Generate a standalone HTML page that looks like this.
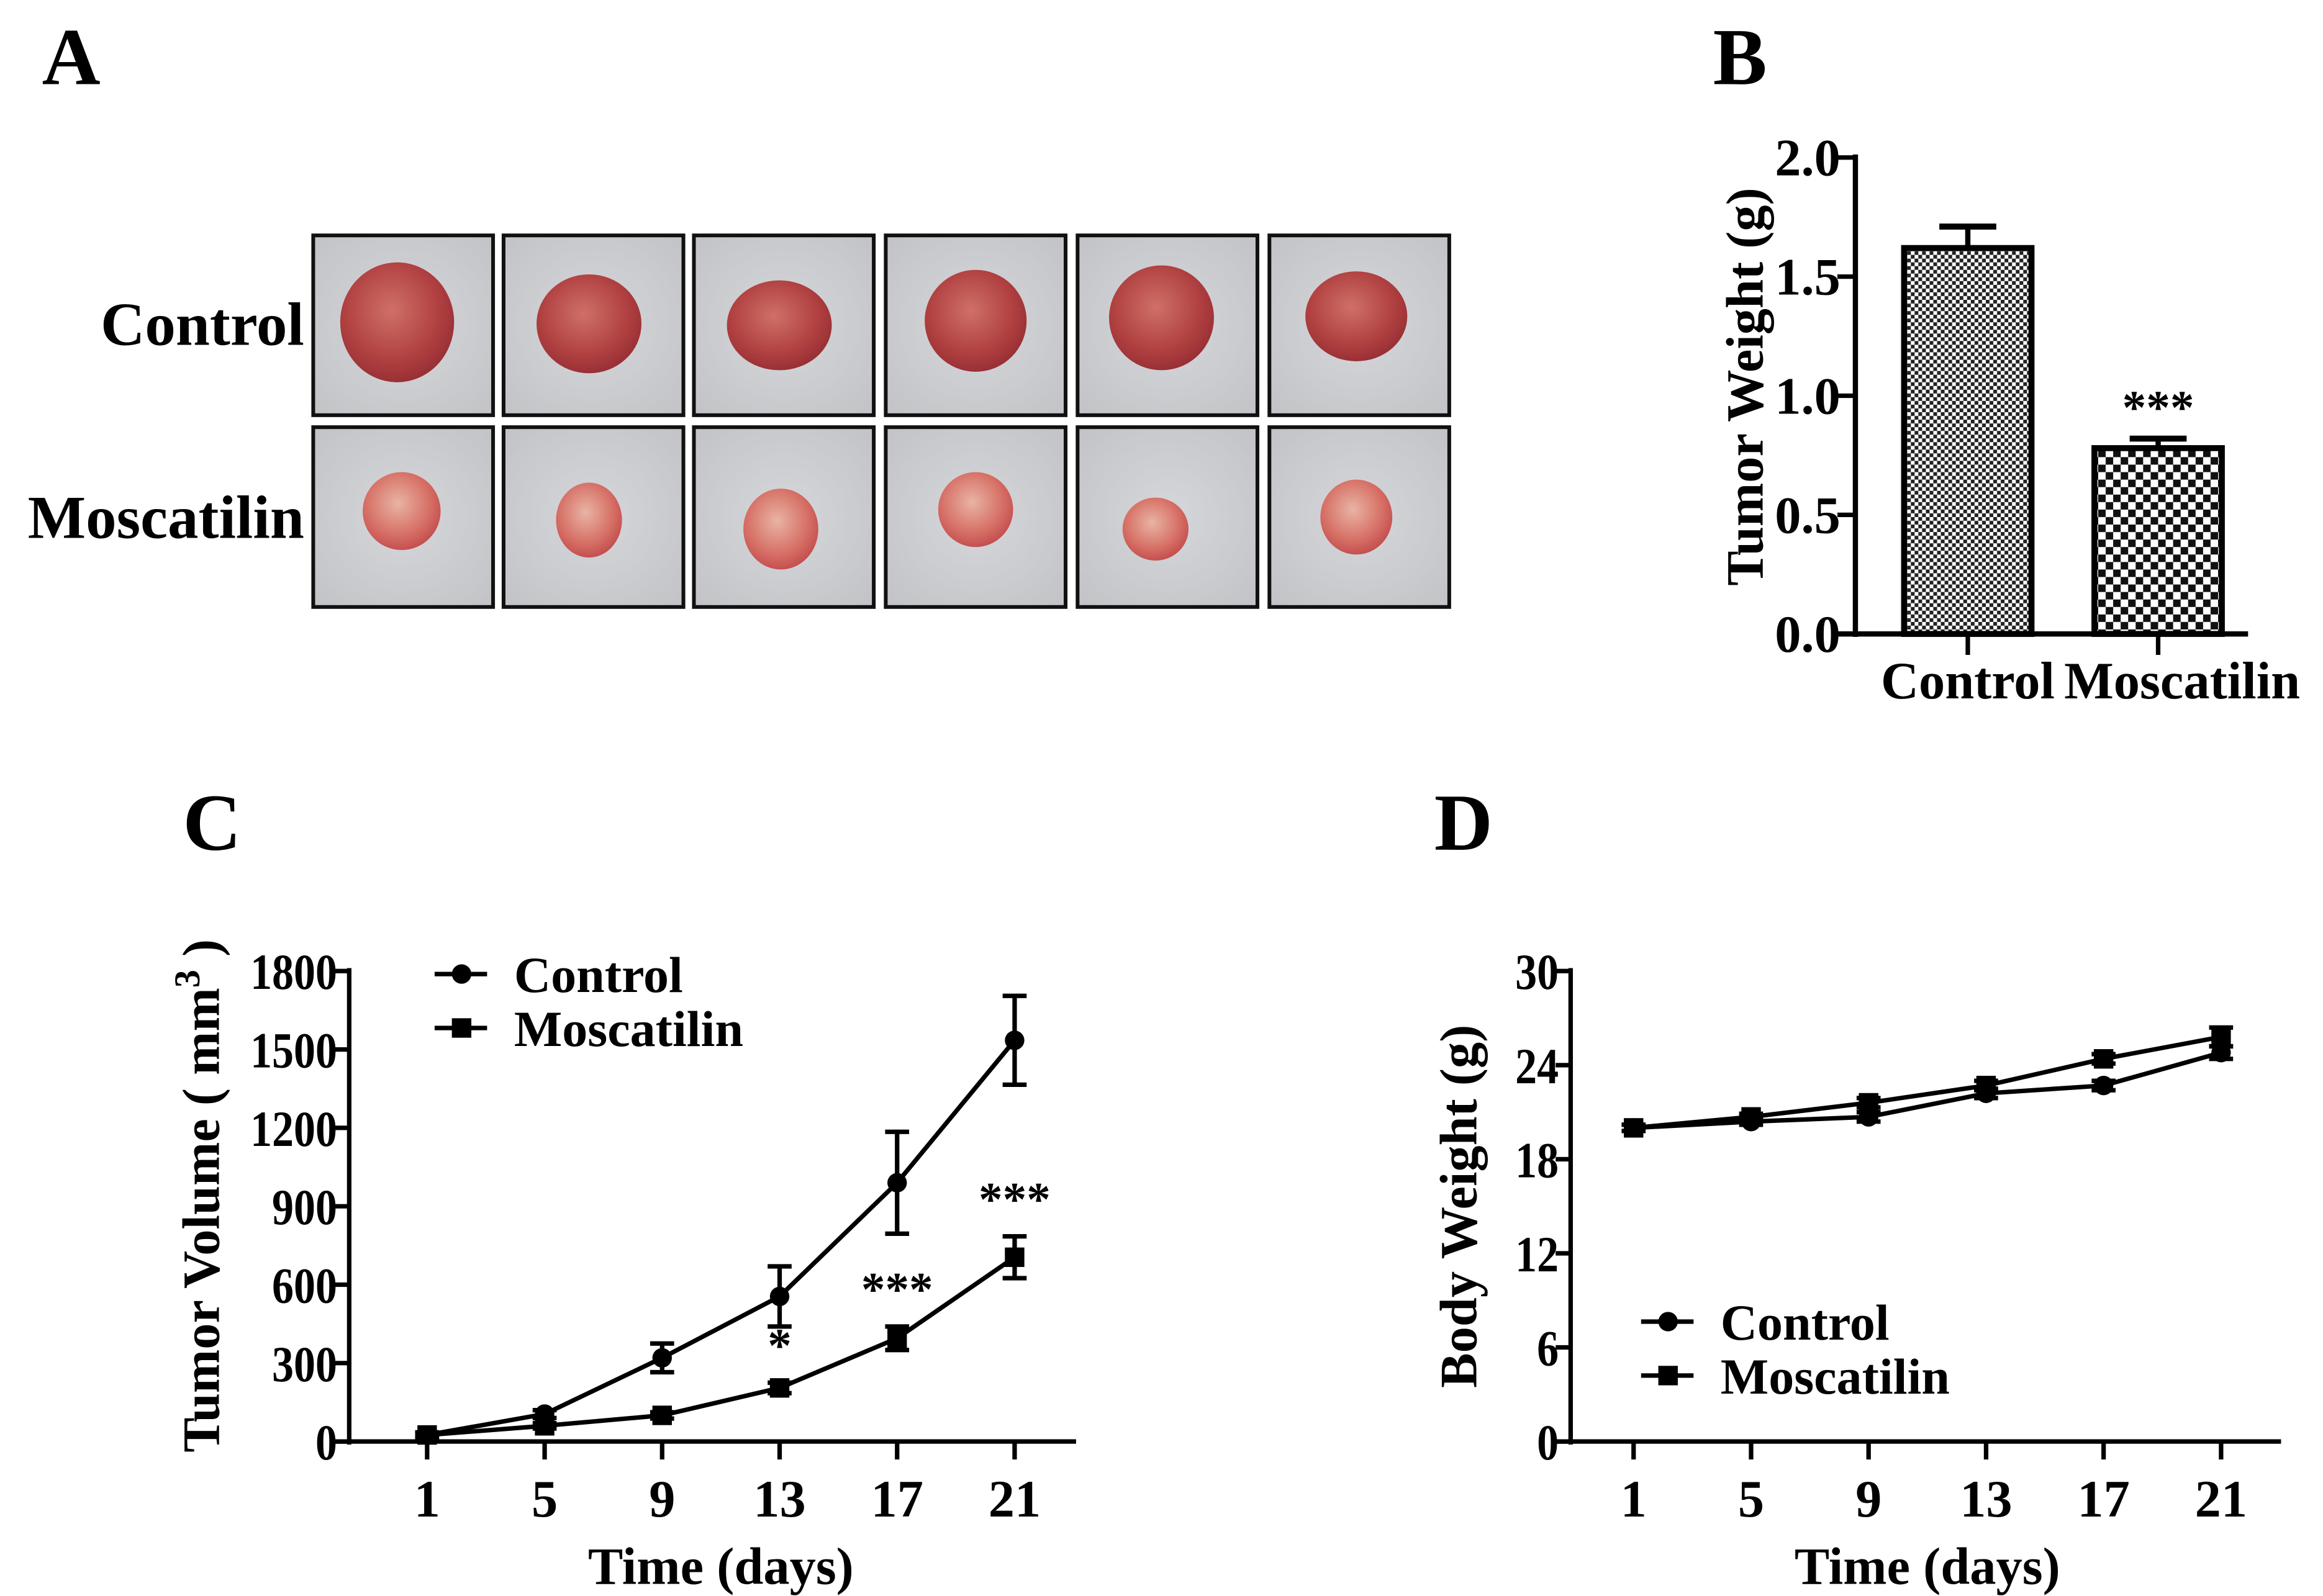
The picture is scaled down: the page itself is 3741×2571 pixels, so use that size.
<!DOCTYPE html>
<html><head><meta charset="utf-8"><style>
html,body{margin:0;padding:0;background:#fff;}
svg{display:block;}
text{font-family:"Liberation Serif",serif;font-weight:bold;fill:#000;}
</style></head><body>
<svg id="fig" width="3741" height="2571" viewBox="0 0 1550 1065" xmlns="http://www.w3.org/2000/svg">
<defs>
<pattern id="fine" width="5" height="5" patternUnits="userSpaceOnUse"><rect width="5" height="5" fill="#fff"/><rect width="2.5" height="2.5" fill="#222"/><rect x="2.5" y="2.5" width="2.5" height="2.5" fill="#222"/></pattern>
<pattern id="coarse" width="10" height="10" patternUnits="userSpaceOnUse"><rect width="10" height="10" fill="#fff"/><rect width="5" height="5" fill="#111"/><rect x="5" y="5" width="5" height="5" fill="#111"/></pattern>
<radialGradient id="bg" cx="0.5" cy="0.5" r="0.7"><stop offset="0" stop-color="#d6d7da"/><stop offset="1" stop-color="#c2c3c6"/></radialGradient>
<radialGradient id="tumC" cx="0.45" cy="0.4" r="0.6"><stop offset="0" stop-color="#cf7068"/><stop offset="0.7" stop-color="#b04040"/><stop offset="1" stop-color="#993036"/></radialGradient>
<radialGradient id="tumM" cx="0.45" cy="0.4" r="0.6"><stop offset="0" stop-color="#e8b4a4"/><stop offset="0.7" stop-color="#d66e64"/><stop offset="1" stop-color="#c45050"/></radialGradient>
</defs>
<g id="panelA"></g>
<g id="panelB"></g>
<g id="panelC"></g>
<g id="panelD"></g>
</svg>
<script>
// ---- Panel B data ----
const bCategories = ["Control", "Moscatilin"];
const bValues = [1.62, 0.78];
const bErrors = [0.09, 0.04];
const bTicks = ["0.0", "0.5", "1.0", "1.5", "2.0"];
const bTickValues = [0, 0.5, 1.0, 1.5, 2.0];
// ---- Panel C data ----
const cDays = [1, 5, 9, 13, 17, 21];
const cControl = [25, 105, 320, 555, 990, 1535];
const cControlErr = [10, 15, 55, 115, 195, 170];
const cMosc = [25, 60, 100, 205, 395, 705];
const cMoscErr = [8, 10, 12, 20, 45, 80];
const cStars = ["", "", "", "*", "***", "***"];
const cTickValues = [0, 300, 600, 900, 1200, 1500, 1800];
const cTickLabels = ["0", "300", "600", "900", "1200", "1500", "1800"];
// ---- Panel D data ----
const dDays = [1, 5, 9, 13, 17, 21];
const dControl = [20.0, 20.4, 20.7, 22.2, 22.7, 24.8];
const dControlErr = [0.2, 0.2, 0.3, 0.3, 0.3, 0.4];
const dMosc = [20.0, 20.7, 21.6, 22.7, 24.4, 25.8];
const dMoscErr = [0.2, 0.2, 0.3, 0.3, 0.3, 0.6];
const dTickValues = [0, 6, 12, 18, 24, 30];
const dTickLabels = ["0", "6", "12", "18", "24", "30"];

const NS = "http://www.w3.org/2000/svg";
function mk(parent, tag, attrs, txt) {
  const e = document.createElementNS(NS, tag);
  for (const k in attrs) e.setAttribute(k, attrs[k]);
  if (txt !== undefined) e.textContent = txt;
  parent.appendChild(e);
  return e;
}

// ---- Panel A ----
const A = document.getElementById('panelA');
let t = mk(A, 'text', {x: 28, y: 56, 'font-size': 54}, 'A');


t = mk(A, 'text', {x: 203, y: 230, 'font-size': 41, 'text-anchor': 'end'}, 'Control');


t = mk(A, 'text', {x: 203, y: 359, 'font-size': 41, 'text-anchor': 'end'}, 'Moscatilin');


const colX = [209, 336, 463, 591, 719, 847];
const rowY = [157, 285];
const sizes = [[[38, 40], [35, 33], [35, 30], [34, 34], [35, 35], [34, 30]], [[26, 26], [22, 25], [25, 27], [25, 25], [22, 21], [24, 25]]];
const offs = [[[-4, -2], [-3, -1], [-3, 0], [0, -3], [-4, -5], [-2, -6]], [[-1, -4], [-3, 2], [-2, 8], [0, -5], [-8, 8], [-2, 0]]];
rowY.forEach((y, r) => colX.forEach((x, c) => {
  const g = mk(A, 'g', {});
  
  
  mk(g, 'rect', {x: x, y: y, width: 120, height: 120, fill: 'url(#bg)', stroke: '#111', 'stroke-width': 2.5});
  const [rx, ry] = sizes[r][c], [ox, oy] = offs[r][c];
  mk(g, 'ellipse', {cx: x + 60 + ox, cy: y + 60 + oy, rx: rx, ry: ry, fill: r ? 'url(#tumM)' : 'url(#tumC)'});
}));

// ---- Panel B ----
const B = document.getElementById('panelB');
t = mk(B, 'text', {x: 1143, y: 56, 'font-size': 54}, 'B');


const bY = v => 423 - v / 2.0 * (423 - 105);
const bX0 = 1238;
const bCenters = [1313, 1440];
const bW = 85;
mk(B, 'line', {x1: bX0, y1: 103, x2: bX0, y2: 425, stroke: '#000', 'stroke-width': 3.5});
mk(B, 'line', {x1: bX0 - 14, y1: 423, x2: 1500, y2: 423, stroke: '#000', 'stroke-width': 3.5});
bTickValues.forEach((v, i) => {
  mk(B, 'line', {x1: bX0 - 12, y1: bY(v), x2: bX0, y2: bY(v), stroke: '#000', 'stroke-width': 3});
  t = mk(B, 'text', {x: bX0 - 10, y: bY(v) + 12, 'font-size': 35, 'text-anchor': 'end'}, bTicks[i]);
  
  
});
const bLabelX = [1313, 1456];
bCategories.forEach((c, i) => {
  const cx = bCenters[i];
  mk(B, 'line', {x1: cx, y1: 423, x2: cx, y2: 437, stroke: '#000', 'stroke-width': 3});
  mk(B, 'line', {x1: cx, y1: bY(bValues[i]), x2: cx, y2: bY(bValues[i] + bErrors[i]), stroke: '#000', 'stroke-width': 3.5});
  mk(B, 'line', {x1: cx - 19, y1: bY(bValues[i] + bErrors[i]), x2: cx + 19, y2: bY(bValues[i] + bErrors[i]), stroke: '#000', 'stroke-width': 4});
  const r = mk(B, 'rect', {x: cx - bW / 2, y: bY(bValues[i]), width: bW, height: 423 - bY(bValues[i]), fill: i ? 'url(#coarse)' : 'url(#fine)', stroke: '#000', 'stroke-width': 4});
  
  
  t = mk(B, 'text', {x: bLabelX[i], y: 466, 'font-size': 35, 'text-anchor': 'middle'}, c);
  
  
});
t = mk(B, 'text', {x: bCenters[1], y: bY(bValues[1] + bErrors[1]) - 10, 'font-size': 32, 'text-anchor': 'middle'}, '***');


t = mk(B, 'text', {x: 0, y: 0, 'font-size': 35, 'text-anchor': 'middle', transform: 'translate(1176,258) rotate(-90)'}, 'Tumor Weight (g)');



// ---- Line chart helper ----
function lineChart(G, o) {
  const xS = d => o.x1 + (d - 1) / 20 * (o.x21 - o.x1);
  const yS = v => o.y0 - v / o.vmax * (o.y0 - o.ytop);
  mk(G, 'line', {x1: o.ax, y1: o.ytop - 2, x2: o.ax, y2: o.y0 + 2, stroke: '#000', 'stroke-width': 3});
  mk(G, 'line', {x1: o.ax - 10, y1: o.y0, x2: o.xend, y2: o.y0, stroke: '#000', 'stroke-width': 3});
  o.tickValues.forEach((v, i) => {
    mk(G, 'line', {x1: o.ax - 10, y1: yS(v), x2: o.ax, y2: yS(v), stroke: '#000', 'stroke-width': 3});
    const tt = mk(G, 'text', {x: o.ax - 8, y: yS(v) + 12, 'font-size': 34, 'text-anchor': 'end', 'textLength': o.tickLabels[i].length * 14.5, 'lengthAdjust': 'spacingAndGlyphs'}, o.tickLabels[i]);
    
    
  });
  o.days.forEach(d => {
    mk(G, 'line', {x1: xS(d), y1: o.y0, x2: xS(d), y2: o.y0 + 12, stroke: '#000', 'stroke-width': 3});
    const tt = mk(G, 'text', {x: xS(d), y: o.y0 + 50, 'font-size': 35, 'text-anchor': 'middle'}, String(d));
    
    
  });
  o.series.forEach((s, si) => {
    const pts = o.days.map((d, i) => xS(d) + ',' + yS(s.v[i])).join(' ');
    const pl = mk(G, 'polyline', {points: pts, fill: 'none', stroke: '#000', 'stroke-width': 3});
    
    
    o.days.forEach((d, i) => {
      const x = xS(d), y = yS(s.v[i]);
      const top = yS(s.v[i] + s.e[i]), bot = yS(s.v[i] - s.e[i]);
      mk(G, 'line', {x1: x, y1: top, x2: x, y2: bot, stroke: '#000', 'stroke-width': 3});
      mk(G, 'line', {x1: x - 8, y1: top, x2: x + 8, y2: top, stroke: '#000', 'stroke-width': 3});
      mk(G, 'line', {x1: x - 8, y1: bot, x2: x + 8, y2: bot, stroke: '#000', 'stroke-width': 3});
      let m;
      if (s.shape === 'circle') m = mk(G, 'circle', {cx: x, cy: y, r: 6.5, fill: '#000'});
      else m = mk(G, 'rect', {x: x - 6.5, y: y - 6.5, width: 13, height: 13, fill: '#000'});
      
      
    });
  });
  o.series.forEach((s, si) => {
    const ly = o.legY + si * 36;
    const lg = mk(G, 'g', {});
    
    
    mk(lg, 'line', {x1: o.legX, y1: ly, x2: o.legX + 35, y2: ly, stroke: '#000', 'stroke-width': 3});
    if (s.shape === 'circle') mk(lg, 'circle', {cx: o.legX + 18, cy: ly, r: 6.5, fill: '#000'});
    else mk(lg, 'rect', {x: o.legX + 11.5, y: ly - 6.5, width: 13, height: 13, fill: '#000'});
    mk(lg, 'text', {x: o.legX + 53, y: ly + 12, 'font-size': 34}, s.name);
  });
  if (o.stars) o.days.forEach((d, i) => {
    if (!o.stars[i]) return;
    const y = yS(o.series[1].v[i] + o.series[1].e[i]) - 14;
    const tt = mk(G, 'text', {x: xS(d), y: y, 'font-size': 32, 'text-anchor': 'middle'}, o.stars[i]);
    
    
  });
  let tt = mk(G, 'text', {x: (o.x1 + o.x21) / 2, y: o.y0 + 95, 'font-size': 35, 'text-anchor': 'middle'}, 'Time (days)');
  
  
}

const C = document.getElementById('panelC');
t = mk(C, 'text', {x: 122, y: 567, 'font-size': 54}, 'C');


lineChart(C, {ax: 233, y0: 962, ytop: 648, vmax: 1800, x1: 285, x21: 677, xend: 718, days: cDays,
  tickValues: cTickValues, tickLabels: cTickLabels, legX: 290, legY: 650, stars: cStars,
  series: [{name: 'Control', v: cControl, e: cControlErr, shape: 'circle'}, {name: 'Moscatilin', v: cMosc, e: cMoscErr, shape: 'square'}]});
t = mk(C, 'text', {x: 0, y: 0, 'font-size': 35, 'text-anchor': 'middle', transform: 'translate(146,798) rotate(-90)'});


t.innerHTML = 'Tumor Volume ( mm<tspan dy="-13" font-size="24">3</tspan><tspan dy="13"> )</tspan>';

const D = document.getElementById('panelD');
t = mk(D, 'text', {x: 957, y: 567, 'font-size': 54}, 'D');


lineChart(D, {ax: 1048, y0: 962, ytop: 648, vmax: 30, x1: 1090, x21: 1482, xend: 1522, days: dDays,
  tickValues: dTickValues, tickLabels: dTickLabels, legX: 1095, legY: 882, stars: null,
  series: [{name: 'Control', v: dControl, e: dControlErr, shape: 'circle'}, {name: 'Moscatilin', v: dMosc, e: dMoscErr, shape: 'square'}]});
t = mk(D, 'text', {x: 0, y: 0, 'font-size': 35, 'text-anchor': 'middle', transform: 'translate(985,805) rotate(-90)'}, 'Body Weight (g)');


</script>
</body></html>
